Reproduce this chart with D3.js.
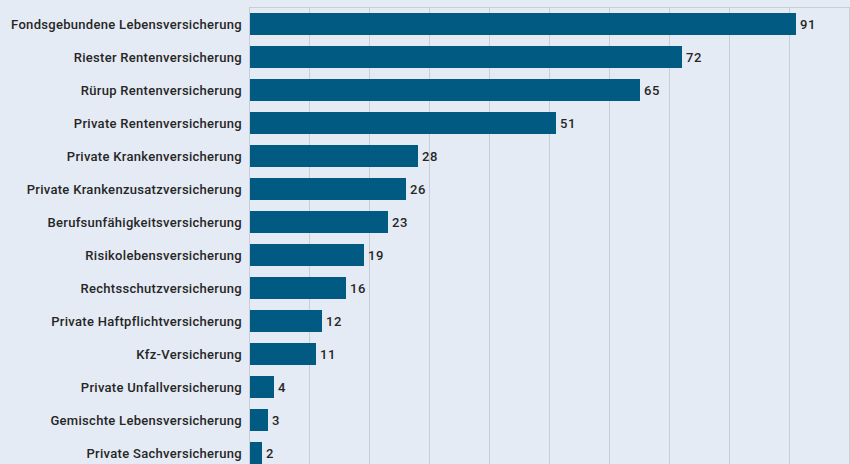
<!DOCTYPE html>
<html><head><meta charset="utf-8">
<script src="https://cdn.jsdelivr.net/npm/d3@7"></script>
<style>
html,body{margin:0;padding:0;background:#e5ebf4;}
svg{display:block;}
text{font-family:Roboto, "Open Sans", sans-serif;font-weight:500;fill:#262626;}
</style></head>
<body>
<svg id="c" width="850" height="464"></svg>
<script>
const categories = ["Fondsgebundene Lebensversicherung","Riester Rentenversicherung","Rürup Rentenversicherung","Private Rentenversicherung","Private Krankenversicherung","Private Krankenzusatzversicherung","Berufsunfähigkeitsversicherung","Risikolebensversicherung","Rechtsschutzversicherung","Private Haftpflichtversicherung","Kfz-Versicherung","Private Unfallversicherung","Gemischte Lebensversicherung","Private Sachversicherung"];
const values = [91,72,65,51,28,26,23,19,16,12,11,4,3,2];
const xTicks = [0,10,20,30,40,50,60,70,80,90,100];

const svg = d3.select("#c");
const x = d3.scaleLinear().domain([0,100]).range([250,850]);
const y = d3.scaleBand().domain(categories).range([7.5,469.5]).paddingInner(1/3).paddingOuter(1/6);

svg.append("g").selectAll("line").data(xTicks).join("line")
  .attr("x1",d=>x(d)-0.5).attr("x2",d=>x(d)-0.5).attr("y1",7).attr("y2",464)
  .attr("stroke","#c9cdd5").attr("stroke-width",1);
svg.append("line").attr("x1",x(0)).attr("x2",850).attr("y1",7.5).attr("y2",7.5)
  .attr("stroke","#c9cdd5");

svg.append("g").selectAll("rect").data(values).join("rect")
  .attr("x",x(0)).attr("y",(d,i)=>y(categories[i]))
  .attr("width",d=>x(d)-x(0)).attr("height",y.bandwidth())
  .attr("fill","#005a82");

svg.append("g").selectAll("text").data(values).join("text")
  .attr("x",d=>x(d)+4).attr("y",(d,i)=>y(categories[i])+y.bandwidth()/2)
  .attr("dy","0.42em").attr("font-size",13).attr("letter-spacing","0.6px").text(d=>d);

svg.append("g").selectAll("text").data(categories).join("text")
  .attr("x",242).attr("y",d=>y(d)+y.bandwidth()/2)
  .attr("dy","0.42em").attr("text-anchor","end").attr("font-size",13).attr("letter-spacing","0.3px").text(d=>d);
</script>
</body></html>
